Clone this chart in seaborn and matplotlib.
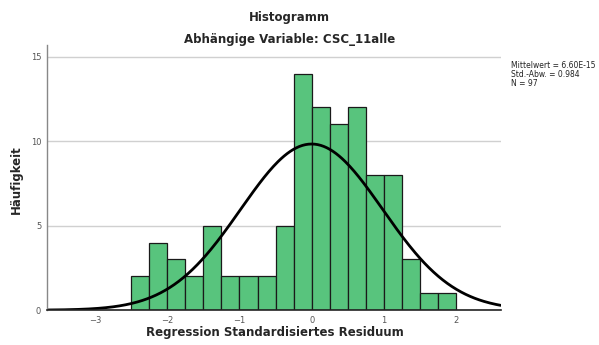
import numpy as np
import matplotlib
matplotlib.use("Agg")
import matplotlib.pyplot as plt
import seaborn as sns

# histogram of standardized residuals (bin width 0.25)
bin_edges = [-2.5, -2.25, -2.0, -1.75, -1.5, -1.25, -1.0, -0.75, -0.5, -0.25,
             0.0, 0.25, 0.5, 0.75, 1.0, 1.25, 1.5, 1.75, 2.0]
counts = [2, 4, 3, 2, 5, 2, 2, 2, 5, 14, 12, 11, 12, 8, 8, 3, 1, 1]
x_ticks = [-3, -2, -1, 0, 1, 2]
y_ticks = [0, 5, 10, 15]

mean_val = 6.60e-15
std_val = 0.984
n_val = 97
bin_width = 0.25

sns.set_theme(style="white")
plt.rcParams["font.family"] = ["DejaVu Sans"]

fig = plt.figure(figsize=(5.99, 3.45), dpi=100)
ax = fig.add_axes([0.078, 0.101, 0.758, 0.769])

centers = [(a + b) / 2 for a, b in zip(bin_edges[:-1], bin_edges[1:])]
sns.histplot(x=centers, weights=counts, bins=bin_edges, ax=ax,
             color="#58c47d", edgecolor="#1a1a1a", linewidth=0.9, alpha=1.0)

# fitted normal curve
xs = np.linspace(-3.7, 2.62, 300)
ys = n_val * bin_width / (std_val * np.sqrt(2 * np.pi)) * np.exp(-0.5 * ((xs - mean_val) / std_val) ** 2)
sns.lineplot(x=xs, y=ys, ax=ax, color="black", linewidth=2.0)

ax.set_xlim(-3.67, 2.62)
ax.set_ylim(0, 15.7)
ax.set_xticks(x_ticks)
ax.set_yticks(y_ticks)
ax.set_xlabel("")
ax.set_ylabel("")
ax.yaxis.grid(True, color="#d0d0d0", linewidth=1.0)
ax.set_axisbelow(True)
ax.tick_params(axis="both", labelsize=6, colors="#555555", length=0, pad=4)
for s in ["top", "right"]:
    ax.spines[s].set_visible(False)
ax.spines["left"].set_color("#888888")
ax.spines["left"].set_linewidth(1.0)
ax.spines["bottom"].set_color("#222222")
ax.spines["bottom"].set_linewidth(1.2)

fig.text(0.459, 0.035, "Regression Standardisiertes Residuum", ha="center", va="center",
         fontsize=8.5, fontweight="bold")
fig.text(0.028, 0.48, "Häufigkeit", ha="center", va="center", rotation=90,
         fontsize=8.5, fontweight="bold")

fig.text(0.483, 0.948, "Histogramm", ha="center", va="center", fontsize=8.5, fontweight="bold")
fig.text(0.483, 0.885, "Abhängige Variable: CSC_11alle", ha="center", va="center", fontsize=8.5, fontweight="bold")

fig.text(0.853, 0.822,
         f"Mittelwert = 6.60E-15\nStd.-Abw. = {std_val:.3f}\nN = {n_val}",
         ha="left", va="top", fontsize=5.5, linespacing=1.0, color="#222222")

fig.savefig("out.png", dpi=100)
